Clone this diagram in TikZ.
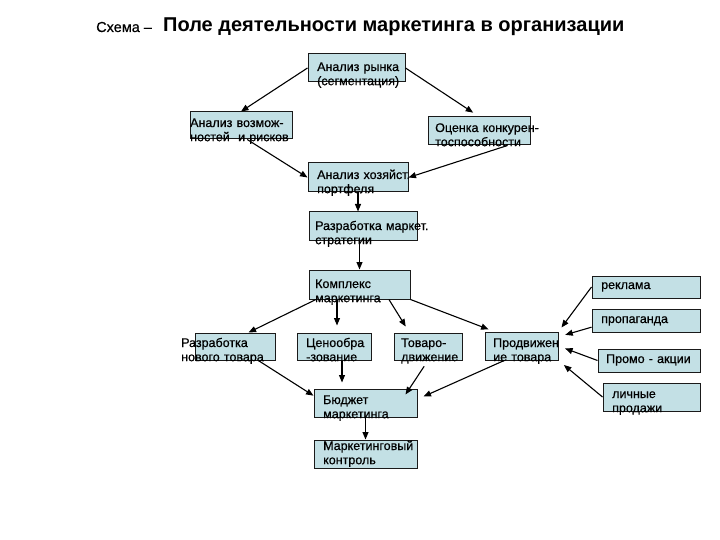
\documentclass[tikz,border=0pt]{standalone}
\usepackage{fontspec}
\setmainfont{Liberation Sans}
\newfontfamily\mkfont[FakeBold=0.6]{Liberation Sans}
\usetikzlibrary{positioning, arrows.meta}
\definecolor{mkfill}{HTML}{C3E0E5}
\definecolor{mkline}{HTML}{1A1A1A}
\newcommand{\mkbox}[5]{%
  \node[box, minimum width={(#4-#2)*1pt}, minimum height={(#5-#3)*1pt}]
    (#1) at ({(#2+#4)/2},{(#3+#5)/2}) {};}

\begin{document}
\begin{tikzpicture}[
    x=1pt, y=-1pt,
    >={Triangle[length=7.5pt, width=6pt]},
    % ---- shared styles ---------------------------------------------------
    box/.style={draw=mkline, fill=mkfill, line width=1pt, inner sep=0pt},
    txt/.style={anchor=base west, inner sep=0pt, text width=130pt, align=left,
                font=\mkfont\fontsize{12.5}{14.2}\selectfont},
    link/.style={->, draw=black, line width=1.1pt},
  ]
\useasboundingbox (0,0) rectangle (720,540);

% =========================================================================
% TITLE
% =========================================================================
\node[anchor=base west, inner sep=0pt, font=\mkfont\fontsize{14.5}{16}\selectfont]
  (schema) at (96,32) {Схема –};
\node[anchor=base west, inner sep=0pt, font=\bfseries\fontsize{20}{22}\selectfont]
  (title) at (163,32) {Поле деятельности маркетинга в организации};

% =========================================================================
% UPPER PART -- analysis
% =========================================================================
\mkbox{rynok}{308}{54}{405}{82}
\mkbox{vozm}{190}{112}{292}{139}
\mkbox{ocenka}{428}{117}{530}{145}
\mkbox{hoz}{308}{163}{408}{192}
\mkbox{strat}{309}{212}{417}{240}
\mkbox{kompl}{309}{270}{410}{299}

\draw[link] (rynok.west) -- (vozm.north);
\draw[link, shorten >=7pt] (rynok.east) -- (ocenka.north);
\draw[link] (vozm.-66) -- (hoz.west);
\draw[link] (ocenka.-27) -- (hoz.east);
\draw[link] (hoz.south) -- (hoz.south |- strat.north);
\draw[link] (kompl.north |- strat.south) -- (kompl.north);

\node[txt] (rynokt) at (317,71) {Анализ рынка\\(сегментация)};
\node[txt] (vozmt) at (190,127) {Анализ возмож-\\ностей\ \ и рисков};
\node[txt] (ocenkat) at (435,132) {Оценка конкурен-\\тоспособности};
\node[txt] (hozt) at (317,179) {Анализ хозяйст.\\портфеля};
\node[txt] (stratt) at (315,230) {Разработка маркет.\\стратегии};
\node[txt] (komplt) at (315,288) {Комплекс\\маркетинга};

% =========================================================================
% LOWER PART -- marketing mix, budget, control
% =========================================================================
\mkbox{novy}{195}{333}{275}{360}
\mkbox{cena}{297}{333}{371}{360}
\mkbox{tovaro}{394}{333}{462}{360}
\mkbox{prodv}{485}{332}{558}{360}
\mkbox{budget}{314}{389}{417}{417}
\mkbox{kontrol}{314}{440}{417}{468}

\draw[link] (kompl.199) -- (novy.46);
\draw[link, shorten >=7pt] ([xshift=3pt]cena.north |- kompl.south) -- ([xshift=3pt]cena.north);
\draw[link, shorten >=7pt] (kompl.-27) -- (tovaro.143);
\draw[link, shorten >=6pt] (kompl.south east) -- (prodv.152);

\draw[link] (novy.-31) -- (budget.172);
\draw[link, shorten >=6pt] ([xshift=8pt]cena.south) -- ([xshift=8pt]cena.south |- budget.north);
\draw[link, shorten <=7pt] (tovaro.south) -- ([xshift=-12pt, yshift=-6pt]budget.north east);
\draw[link] (prodv.220) -- ([xshift=6pt, yshift=-8pt]budget.north east);
\draw[link] (budget.south) -- (kontrol.north);

\node[txt] (novyt) at (181,347) {Разработка\\нового товара};
\node[txt] (cenat) at (306,347) {Ценообра\\-зование};
\node[txt] (tovarot) at (401,347) {Товаро-\\движение};
\node[txt] (prodvt) at (493,347) {Продвижен\\ие товара};
\node[txt] (budgett) at (323,404) {Бюджет\\маркетинга};
\node[txt] (kontrolt) at (323,450) {Маркетинговый\\контроль};

% =========================================================================
% RIGHT -- promotion tools
% =========================================================================
\mkbox{reklama}{592}{276}{700}{298}
\mkbox{propag}{592}{309}{700}{332}
\mkbox{promo}{598}{349}{700}{372}
\mkbox{lichn}{603}{383}{700}{411}

\draw[link, shorten >=5pt] (reklama.west) -- (prodv.north east);
\draw[link, shorten >=7pt] (propag.187) -- (prodv.14);
\draw[link, shorten >=7pt] (promo.west) -- (prodv.east);
\draw[link, shorten >=7pt] (lichn.west) -- (prodv.south east);

\node[txt] (reklamat) at (601,289) {реклама};
\node[txt] (propagt) at (601,323) {пропаганда};
\node[txt] (promot) at (606,363) {Промо - акции};
\node[txt] (lichnt) at (612,398) {личные\\продажи};

\end{tikzpicture}
\end{document}
